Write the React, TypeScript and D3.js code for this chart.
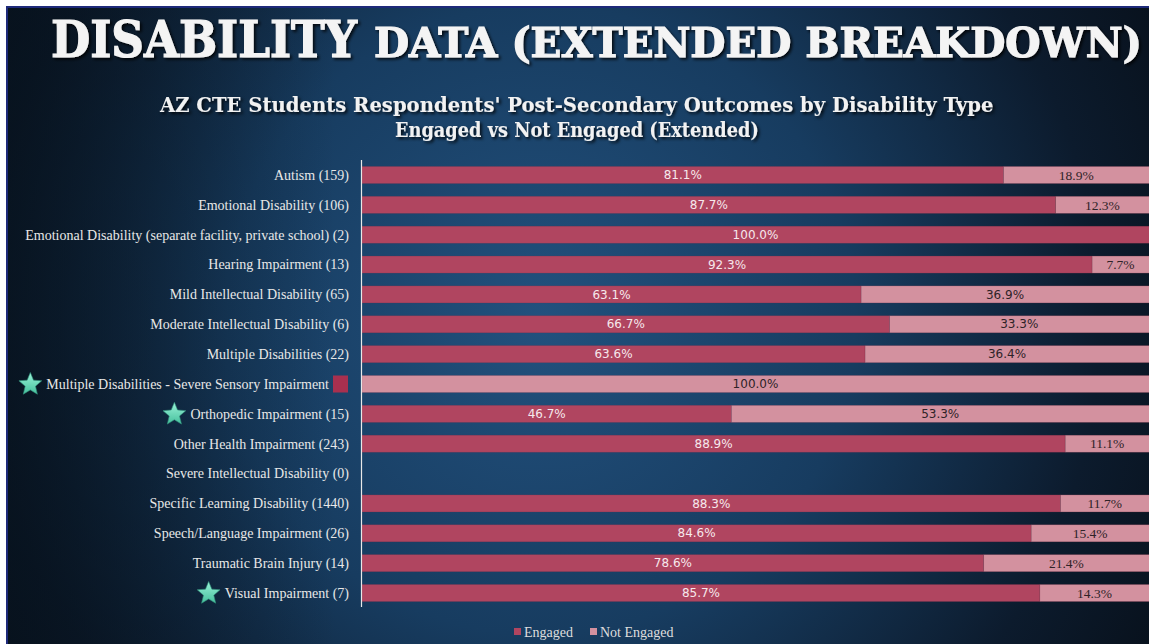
import React from "react";
import * as d3 from "d3";

const categories = [
  "Autism (159)",
  "Emotional Disability (106)",
  "Emotional Disability (separate facility, private school) (2)",
  "Hearing Impairment (13)",
  "Mild Intellectual Disability (65)",
  "Moderate Intellectual Disability (6)",
  "Multiple Disabilities (22)",
  "Multiple Disabilities - Severe Sensory Impairment",
  "Orthopedic Impairment (15)",
  "Other Health Impairment (243)",
  "Severe Intellectual Disability (0)",
  "Specific Learning Disability (1440)",
  "Speech/Language Impairment (26)",
  "Traumatic Brain Injury (14)",
  "Visual Impairment (7)",
];

const engaged = [81.1, 87.7, 100, 92.3, 63.1, 66.7, 63.6, 0, 46.7, 88.9, 0, 88.3, 84.6, 78.6, 85.7];
const notEngaged = [18.9, 12.3, 0, 7.7, 36.9, 33.3, 36.4, 100, 53.3, 11.1, 0, 11.7, 15.4, 21.4, 14.3];

const starred = [
  "Multiple Disabilities - Severe Sensory Impairment",
  "Orthopedic Impairment (15)",
  "Visual Impairment (7)",
];
// the count of this row is hidden behind a small red box in the original
const boxed = "Multiple Disabilities - Severe Sensory Impairment";

const seriesNames = ["Engaged", "Not Engaged"];
const colors = ["#b04560", "#d3919f"];

const W = 1149;
const H = 644;
const labelFont = "14px 'Liberation Serif'";

let ctx: CanvasRenderingContext2D | null = null;
const measure = (s: string, font = labelFont) => {
  if (!ctx) ctx = document.createElement("canvas").getContext("2d");
  ctx!.font = font;
  return ctx!.measureText(s).width;
};

const starPath = (cx: number, cy: number, r: number) => {
  const pts: [number, number][] = [];
  for (let i = 0; i < 10; i++) {
    const a = -Math.PI / 2 + (i * Math.PI) / 5;
    const rr = i % 2 === 0 ? r : r * 0.45;
    pts.push([cx + rr * Math.cos(a), cy + rr * Math.sin(a)]);
  }
  return d3.line()(pts) + "Z";
};

// text squeezed horizontally to a given width
const Fitted = ({ text, x, y, size, width, anchor = "start" }: any) => {
  const font = `bold ${size}px 'DejaVu Serif'`;
  const natural = measure(text, font) || width;
  const sx = width / natural;
  const x0 = anchor === "middle" ? x - width / 2 : x;
  return (
    <text
      transform={`translate(${x0},${y}) scale(${sx},1)`}
      fontSize={size}
      fontFamily="'DejaVu Serif'"
      fontWeight="bold"
    >
      {text}
    </text>
  );
};

export default function App() {
  const x = d3.scaleLinear().domain([0, 100]).range([362, 1153]);
  const y = d3
    .scaleBand()
    .domain(categories)
    .range([160, 608])
    .paddingInner(0.43)
    .paddingOuter(0.217);
  const bw = y.bandwidth();
  const labelX = 349;

  const stacked = categories.map((c, i) => {
    const e = engaged[i];
    const n = notEngaged[i];
    return [
      { c, v: e, x0: 0, x1: e, s: 0 },
      { c, v: n, x0: e, x1: e + n, s: 1 },
    ];
  });

  return (
    <svg
      width={W}
      height={H}
      style={{ position: "absolute", left: 0, top: 0, display: "block" }}
    >
      <defs>
        <radialGradient id="bg" cx="540" cy="320" r="700" gradientUnits="userSpaceOnUse">
          <stop offset="0" stopColor="#22517e" />
          <stop offset="0.45" stopColor="#173c60" />
          <stop offset="0.8" stopColor="#0c1b2d" />
          <stop offset="1" stopColor="#08111c" />
        </radialGradient>
        <linearGradient id="leftShade" x1="0" x2="1" y1="0" y2="0">
          <stop offset="0" stopColor="#06101a" stopOpacity="0.7" />
          <stop offset="1" stopColor="#06101a" stopOpacity="0" />
        </linearGradient>
        <filter id="shadow" x="-5%" y="-20%" width="110%" height="150%">
          <feDropShadow dx="2" dy="2" stdDeviation="1.5" floodColor="#000" floodOpacity="0.8" />
        </filter>
        <linearGradient id="starFill" x1="0" x2="0" y1="0" y2="1">
          <stop offset="0" stopColor="#9af3d8" />
          <stop offset="1" stopColor="#45bf9c" />
        </linearGradient>
      </defs>

      <rect width={W} height={H} fill="#ffffff" />
      <rect x={6} y={6} width={W - 6} height={H - 6} fill="url(#bg)" />
      <rect x={6} y={6} width={330} height={H - 6} fill="url(#leftShade)" />
      <line x1={7} x2={7} y1={6} y2={H} stroke="#1e2a7a" strokeWidth={2} />
      <line x1={6} x2={W} y1={7} y2={7} stroke="#1e2a7a" strokeWidth={2} />

      {/* title */}
      <g filter="url(#shadow)" fill="#f4f4f4" stroke="#f4f4f4" strokeWidth={1.2}>
        <Fitted text="DISABILITY" x={51} y={57} size={50} width={306} />
        <Fitted text="DATA (EXTENDED BREAKDOWN)" x={374} y={57} size={41} width={768} />
      </g>

      {/* chart title */}
      <g fill="#f2f2f2" filter="url(#shadow)">
        <Fitted
          text="AZ CTE Students Respondents' Post-Secondary Outcomes by Disability Type"
          x={577}
          y={112}
          size={20}
          width={834}
          anchor="middle"
        />
        <Fitted
          text="Engaged vs Not Engaged (Extended)"
          x={577}
          y={137}
          size={20}
          width={364}
          anchor="middle"
        />
      </g>

      {/* bars */}
      {stacked.map((row) =>
        row
          .filter((d) => d.v > 0)
          .map((d) => (
            <rect
              key={d.c + d.s}
              x={x(d.x0)}
              y={y(d.c)}
              width={x(d.x1) - x(d.x0)}
              height={bw}
              fill={colors[d.s]}
              stroke="#7a3048"
              strokeOpacity={0.35}
              strokeWidth={0.6}
            />
          ))
      )}

      {/* value labels */}
      {stacked.map((row) =>
        row
          .filter((d) => d.v > 0)
          .map((d) => {
            const cx = (x(d.x0) + Math.min(x(d.x1), W)) / 2;
            const narrow = d.s === 1 && d.v < 25;
            return (
              <text
                key={"l" + d.c + d.s}
                x={cx}
                y={(y(d.c) as number) + bw / 2}
                dy="0.35em"
                textAnchor="middle"
                fontSize={narrow ? 13.5 : 12}
                fontFamily={narrow ? "'Liberation Serif'" : "'DejaVu Sans'"}
                fill={d.s === 0 ? "#f6e8ec" : "#2e2328"}
              >
                {d.v.toFixed(1)}%
              </text>
            );
          })
      )}

      {/* axis line */}
      <line x1={361.5} x2={361.5} y1={160} y2={607} stroke="#e8e8e8" strokeWidth={1.2} />

      {/* category labels */}
      {categories.map((c) => {
        const cy = (y(c) as number) + bw / 2;
        const isBoxed = c === boxed;
        const endX = isBoxed ? 329 : labelX;
        const w = measure(c);
        const startX = endX - w;
        return (
          <g key={"c" + c}>
            <text
              x={endX}
              y={cy}
              dy="0.35em"
              textAnchor="end"
              fontSize={14}
              fontFamily="'Liberation Serif'"
              fill="#e8e8e8"
            >
              {c}
            </text>
            {isBoxed && (
              <rect x={333} y={cy - 8.5} width={15} height={17} fill="#a8304f" />
            )}
            {starred.includes(c) && (
              <path
                d={starPath(startX - 16, cy + 0.5, 12)}
                fill="url(#starFill)"
                stroke="#2f8f78"
                strokeWidth={0.6}
              />
            )}
          </g>
        );
      })}

      {/* legend */}
      {seriesNames.map((s, i) => {
        const lx = [514, 590][i];
        return (
          <g key={s}>
            <rect x={lx} y={628} width={7} height={7} fill={colors[i]} />
            <text
              x={lx + 10}
              y={632}
              dy="0.35em"
              fontSize={14}
              fontFamily="'Liberation Serif'"
              fill="#dedede"
            >
              {s}
            </text>
          </g>
        );
      })}
    </svg>
  );
}
